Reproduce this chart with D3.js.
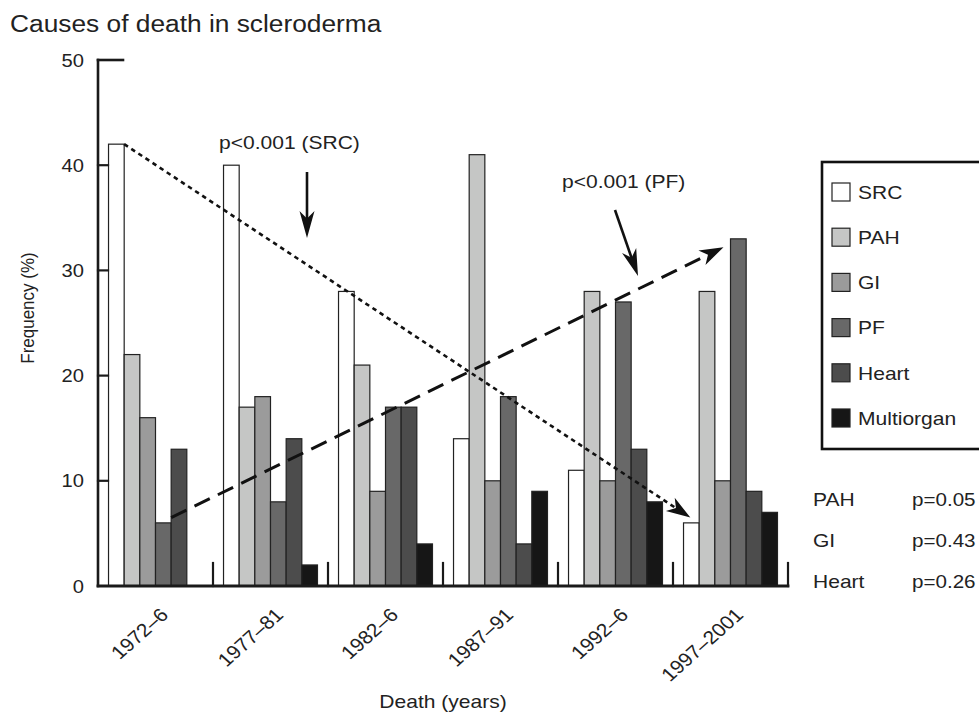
<!DOCTYPE html>
<html>
<head>
<meta charset="utf-8">
<script src="https://cdn.jsdelivr.net/npm/d3@7/dist/d3.min.js"></script>
<style>
  body { margin: 0; background: #fff; }
  text { font-family: "Liberation Sans", Arial, sans-serif; fill: #222; }
</style>
</head>
<body>
<svg id="chart" width="979" height="713"></svg>
<script>

//////////////////////
// Data
//////////////////////

var periods = ["1972–6", "1977–81", "1982–6", "1987–91", "1992–6", "1997–2001"];
var causes = ["SRC", "PAH", "GI", "PF", "Heart", "Multiorgan"];

var SRC        = [42, 40, 28, 14, 11, 6];
var PAH        = [22, 17, 21, 41, 28, 28];
var GI         = [16, 18, 9, 10, 10, 10];
var PF         = [6, 8, 17, 18, 27, 33];
var Heart      = [13, 14, 17, 4, 13, 9];
var Multiorgan = [0, 2, 4, 9, 8, 7];

var yTicks = [0, 10, 20, 30, 40, 50];

var testNames = ["PAH", "GI", "Heart"];
var testValues = ["p=0.05", "p=0.43", "p=0.26"];

var fills = ["#ffffff", "#c5c6c5", "#9b9b9b", "#686868", "#4c4c4c", "#161616"];

var seriesByCause = { SRC: SRC, PAH: PAH, GI: GI, PF: PF, Heart: Heart, Multiorgan: Multiorgan };

//////////////////////
// Layout
//////////////////////

var svg = d3.select("#chart");
var SX = 1.12; // source figure text is slightly stretched horizontally

var x0 = d3.scaleBand().domain(periods).range([98, 788])
    .paddingInner(0.183).paddingOuter(0.0915);
var x1 = d3.scaleBand().domain(causes).range([0, x0.bandwidth()]);
var y = d3.scaleLinear().domain([0, 50]).range([586, 60]);
var color = d3.scaleOrdinal().domain(causes).range(fills);

function txt(g, x, yy, str, size, anchor, rot) {
    return g.append("text")
        .attr("transform", "translate(" + x + "," + yy + ") scale(" + SX + ",1)" + (rot ? " rotate(" + rot + ")" : ""))
        .attr("font-size", size)
        .attr("text-anchor", anchor || "start")
        .text(str);
}

// title
txt(svg, 10, 32, "Causes of death in scleroderma", 23.5);

//////////////////////
// Bars
//////////////////////

var groups = svg.append("g").selectAll("g")
    .data(periods)
    .enter()
    .append("g")
        .attr("transform", function(d) { return "translate(" + x0(d) + ",0)"; });

groups.selectAll("rect")
    .data(function(d, i) { return causes.map(function(c) { return { cause: c, value: seriesByCause[c][i] }; }); })
    .enter()
    .append("rect")
        .attr("x", function(d) { return x1(d.cause); })
        .attr("y", function(d) { return y(d.value); })
        .attr("width", x1.bandwidth())
        .attr("height", function(d) { return y(0) - y(d.value); })
        .attr("fill", function(d) { return color(d.cause); })
        .attr("stroke", "#222")
        .attr("stroke-width", 1.2);

//////////////////////
// Axes
//////////////////////

var step = x0.step();
var axisG = svg.append("g").attr("stroke", "#1a1a1a").attr("stroke-linecap", "square");

// y axis line + inward ticks
axisG.append("line").attr("x1", 98).attr("x2", 98).attr("y1", y(50)).attr("y2", y(0)).attr("stroke-width", 2.6);
axisG.selectAll(".ytick").data(yTicks.filter(function(t) { return t > 0 && t < 50; }))
    .enter().append("line")
        .attr("x1", 98).attr("x2", 108)
        .attr("y1", function(d) { return y(d); }).attr("y2", function(d) { return y(d); })
        .attr("stroke-width", 2.2);
axisG.append("line").attr("x1", 98).attr("x2", 123).attr("y1", y(50)).attr("y2", y(50)).attr("stroke-width", 2.6);

// baseline + separators between periods
axisG.append("line").attr("x1", 98).attr("x2", 98 + step * periods.length).attr("y1", y(0)).attr("y2", y(0)).attr("stroke-width", 2.8);
axisG.selectAll(".sep").data(d3.range(1, periods.length + 1))
    .enter().append("line")
        .attr("x1", function(i) { return 98 + step * i; })
        .attr("x2", function(i) { return 98 + step * i; })
        .attr("y1", y(0)).attr("y2", y(0) - 23)
        .attr("stroke-width", 2.2);

// tick labels
yTicks.forEach(function(t) {
    txt(svg, 84, y(t) + 6.5, t, 18, "end");
});
periods.forEach(function(p) {
    txt(svg, x0(p) + x0.bandwidth() / 2 + 14, 616, p, 18.8, "end", -45);
});

// axis titles
txt(svg, 34, 308, "Frequency (%)", 17, "middle", -90);
txt(svg, 443, 708, "Death (years)", 18.8, "middle");

//////////////////////
// Trend lines + annotations
//////////////////////

function arrowHead(g, tip, from, len, half) {
    var a = Math.atan2(tip[1] - from[1], tip[0] - from[0]);
    var c = Math.cos(a), s = Math.sin(a);
    function pt(u, v) { return [tip[0] + u * c - v * s, tip[1] + u * s + v * c]; }
    var pts = [pt(0, 0), pt(-len, -half), pt(-len * 0.72, 0), pt(-len, half)];
    g.append("path").attr("d", "M" + pts.join("L") + "Z").attr("fill", "#111").attr("stroke", "none");
}

var last = periods[periods.length - 1], first = periods[0];

// SRC dotted trend
var srcFrom = [x0(first) + x1("SRC") + x1.bandwidth(), y(SRC[0])];
var srcTo = [x0(last) + x1("SRC") + x1.bandwidth() / 2 - 1, y(SRC[5] + 0.5)];
var trendG = svg.append("g");
trendG.append("line")
    .attr("x1", srcFrom[0]).attr("y1", srcFrom[1])
    .attr("x2", srcTo[0] - 12).attr("y2", srcTo[1] - 12 * (srcTo[1] - srcFrom[1]) / (srcTo[0] - srcFrom[0]))
    .attr("stroke", "#111").attr("stroke-width", 2.6).attr("stroke-dasharray", "4.5,4");
arrowHead(trendG, srcTo, srcFrom, 24, 8);

// PF dashed trend
var pfFrom = [x0(first) + x1("PF") + x1.bandwidth(), y(PF[0] + 0.5)];
var pfTo = [x0(last) + x1("PF") - 7, y(PF[5] - 0.8)];
trendG.append("line")
    .attr("x1", pfFrom[0]).attr("y1", pfFrom[1])
    .attr("x2", pfTo[0] - 12).attr("y2", pfTo[1] - 12 * (pfTo[1] - pfFrom[1]) / (pfTo[0] - pfFrom[0]))
    .attr("stroke", "#111").attr("stroke-width", 3).attr("stroke-dasharray", "17,9");
arrowHead(trendG, pfTo, pfFrom, 24, 8);

// p-value labels with pointer arrows
txt(svg, 219, 149, "p<0.001 (SRC)", 18.8);
trendG.append("line").attr("x1", 307).attr("y1", 172).attr("x2", 307).attr("y2", 222)
    .attr("stroke", "#111").attr("stroke-width", 2.6);
arrowHead(trendG, [307, 238], [307, 172], 27, 7.5);

txt(svg, 562, 188, "p<0.001 (PF)", 18.8);
trendG.append("line").attr("x1", 615).attr("y1", 210).attr("x2", 633).attr("y2", 262)
    .attr("stroke", "#111").attr("stroke-width", 2.6);
arrowHead(trendG, [638, 276], [615, 210], 27, 7.5);

//////////////////////
// Legend
//////////////////////

var legend = svg.append("g");
legend.append("rect")
    .attr("x", 822).attr("y", 162).attr("width", 200).attr("height", 287)
    .attr("fill", "none").attr("stroke", "#111").attr("stroke-width", 2.6);

var items = legend.selectAll(".item").data(causes).enter().append("g")
    .attr("transform", function(d, i) { return "translate(832," + (192 + i * 45.2) + ")"; });
items.append("rect")
    .attr("x", 0).attr("y", -9).attr("width", 18).attr("height", 18)
    .attr("fill", function(d) { return color(d); })
    .attr("stroke", "#222").attr("stroke-width", 1.2);
items.each(function(d) {
    txt(d3.select(this), 26, 6.8, d, 18.8);
});

// other p values
testNames.forEach(function(n, i) {
    txt(svg, 813, 506 + i * 41, n, 18.8);
    txt(svg, 912, 506 + i * 41, testValues[i], 18.4);
});

</script>
</body>
</html>
